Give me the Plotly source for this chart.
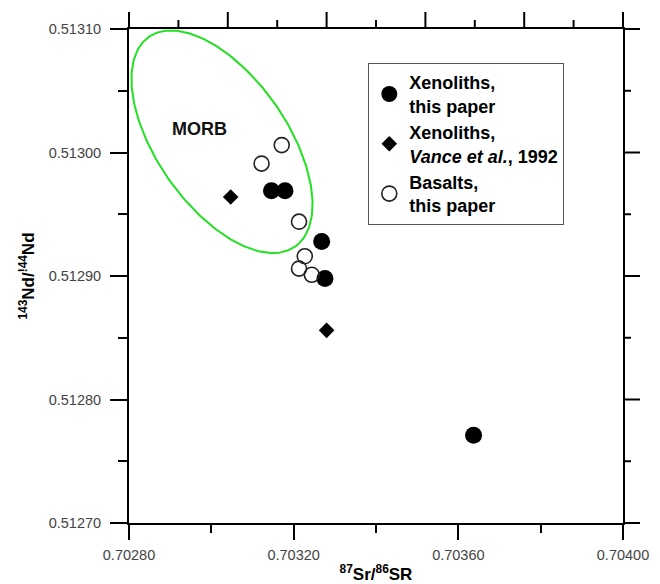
import numpy as np
import plotly.graph_objects as go

# ---- data ----
xeno_this_sr = [0.703146, 0.703179, 0.703268, 0.703276, 0.703637]
xeno_this_nd = [0.512969, 0.512969, 0.512928, 0.512898, 0.512771]

xeno_vance_sr = [0.703047, 0.703280]
xeno_vance_nd = [0.512964, 0.512856]

basalt_sr = [0.703171, 0.703122, 0.703213, 0.703227, 0.703213, 0.703244]
basalt_nd = [0.513006, 0.512991, 0.512944, 0.512916, 0.512906, 0.512901]

# MORB field ellipse: centre and two conjugate semi-axis vectors (data units)
morb_center = (0.7030259, 0.5130087)
morb_axis_u = (0.0001775, -0.0000849)
morb_axis_v = (-0.0001299, -0.0000301)

x_range = [0.70280, 0.70400]
y_range = [0.51270, 0.51310]

# top / right (unlabelled) frame tick positions
top_major_ticks = [0.70280, 0.70304, 0.70328, 0.70352, 0.70376, 0.70400]
top_minor_ticks = [0.70292, 0.70316, 0.70340, 0.70364, 0.70388]
right_major_ticks = [0.51270, 0.51280, 0.51290, 0.51300, 0.51310]
right_minor_ticks = [0.51275, 0.51285, 0.51295, 0.51305]

legend_names = [
    "<b>Xenoliths,<br>this paper</b>",
    "<b>Xenoliths,<br><i>Vance et al.</i>, 1992</b>",
    "<b>Basalts,<br>this paper</b>",
]

FONT = "Liberation Sans, Arial, sans-serif"

PLOT_W = 494   # plot-area size in px (used for tick lengths in paper units)
PLOT_H = 494

t = np.linspace(0, 2 * np.pi, 241)
ell_x = morb_center[0] + morb_axis_u[0] * np.cos(t) + morb_axis_v[0] * np.sin(t)
ell_y = morb_center[1] + morb_axis_u[1] * np.cos(t) + morb_axis_v[1] * np.sin(t)

fig = go.Figure()

fig.add_trace(go.Scatter(x=ell_x, y=ell_y, mode="lines",
                         line=dict(color="#22e022", width=2),
                         showlegend=False, hoverinfo="skip"))

fig.add_trace(go.Scatter(x=xeno_this_sr, y=xeno_this_nd, mode="markers",
                         name=legend_names[0],
                         marker=dict(symbol="circle", size=17, color="black",
                                     line=dict(width=0))))
fig.add_trace(go.Scatter(x=xeno_vance_sr, y=xeno_vance_nd, mode="markers",
                         name=legend_names[1],
                         marker=dict(symbol="diamond", size=12, color="black",
                                     line=dict(width=0))))
fig.add_trace(go.Scatter(x=basalt_sr, y=basalt_nd, mode="markers",
                         name=legend_names[2],
                         marker=dict(symbol="circle-open", size=15, color="#222222",
                                     line=dict(width=1.6, color="#222222"))))

tickfont = dict(family=FONT, size=14.5, color="#444444")

fig.add_annotation(x=0.702972, y=0.5130193, text="<b>MORB</b>", showarrow=False,
                   font=dict(family=FONT, size=18, color="#111111"))


def x_frac(v):
    return (v - x_range[0]) / (x_range[1] - x_range[0])


def y_frac(v):
    return (v - y_range[0]) / (y_range[1] - y_range[0])


# frame ticks on the top and right edges (outward)
for ticks_, length in ((top_major_ticks, 17), (top_minor_ticks, 9)):
    for v in ticks_:
        fig.add_shape(type="line", xref="paper", yref="paper",
                      x0=x_frac(v), x1=x_frac(v), y0=1, y1=1 + length / PLOT_H,
                      line=dict(color="black", width=2), layer="above")
for ticks_, length in ((right_major_ticks, 17), (right_minor_ticks, 8)):
    for v in ticks_:
        fig.add_shape(type="line", xref="paper", yref="paper",
                      x0=1, x1=1 + length / PLOT_W, y0=y_frac(v), y1=y_frac(v),
                      line=dict(color="black", width=2), layer="above")

# page body has an 8px margin, so the figure is drawn 8px smaller
fig.update_layout(
    width=652, height=576,
    margin=dict(l=121, r=37, t=21, b=61),
    paper_bgcolor="white", plot_bgcolor="white",
    font=dict(family=FONT, color="black"),
    xaxis=dict(range=x_range, showgrid=False, zeroline=False, automargin=False,
               showline=True, mirror=True, linecolor="black", linewidth=2,
               ticks="outside", ticklen=15, tickwidth=2, tickcolor="black",
               tick0=0.7028, dtick=0.0004, tickformat=".5f",
               tickfont=tickfont, ticklabelstandoff=3,
               minor=dict(ticks="outside", ticklen=8, tickwidth=2,
                          tickcolor="black", dtick=0.0002, tick0=0.7028,
                          showgrid=False),
               title=dict(text="<b><sup>87</sup>Sr/<sup>86</sup>SR</b>",
                          font=dict(family=FONT, size=17, color="black"),
                          standoff=6)),
    yaxis=dict(range=y_range, showgrid=False, zeroline=False, automargin=False,
               showline=True, mirror=True, linecolor="black", linewidth=2,
               ticks="outside", ticklen=17, tickwidth=2, tickcolor="black",
               tick0=0.5127, dtick=0.0001, tickformat=".5f",
               tickfont=tickfont, ticklabelstandoff=6,
               minor=dict(ticks="outside", ticklen=9, tickwidth=2,
                          tickcolor="black", dtick=0.00005, tick0=0.5127,
                          showgrid=False),
               title=dict(text="<b><sup>143</sup>Nd/<sup>!44</sup>Nd</b>",
                          font=dict(family=FONT, size=17, color="black"),
                          standoff=10)),
    legend=dict(x=0.4844, y=0.931, xanchor="left", yanchor="top",
                bgcolor="white", bordercolor="#555555", borderwidth=1,
                font=dict(family=FONT, size=18, color="black"),
                itemsizing="trace"),
    showlegend=True,
)

fig.write_html("out.html")
